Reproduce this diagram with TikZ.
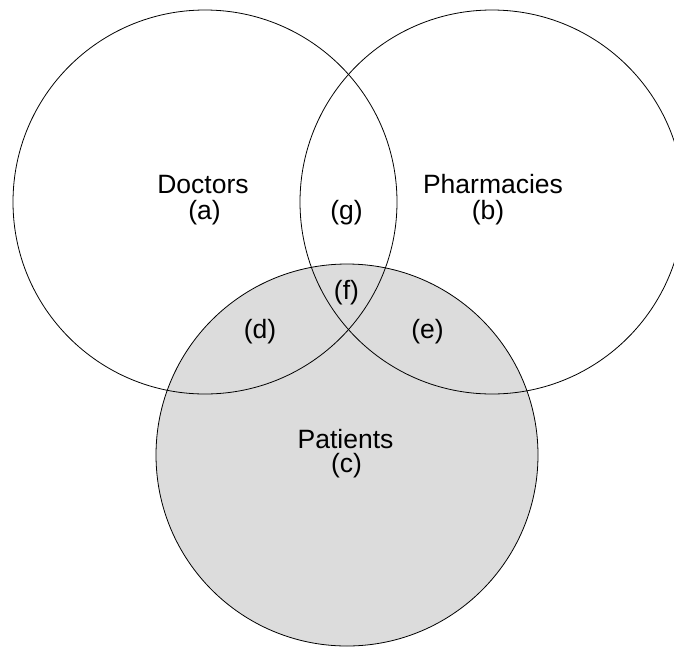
\documentclass[tikz,border=0pt]{standalone}
\usepackage{fontspec}
\setmainfont{Liberation Sans}
\definecolor{patfill}{RGB}{220,220,220}
\tikzset{
  circ/.style={draw=black, line width=0.8pt},
  lbl/.style={anchor=base, inner sep=0pt, font=\fontsize{26.5}{30}\selectfont}
}
\begin{document}
\begin{tikzpicture}[x=1pt,y=-1pt]
\useasboundingbox (0,0) rectangle (674,646);
\clip (0,0) rectangle (674,646);
\coordinate (cdoc) at (205,202);
\coordinate (cpha) at (492,202);
\coordinate (cpat) at (347,455);
\fill[patfill] (cpat) circle[radius=191];
\draw[circ] (cpat) circle[radius=191];
\draw[circ] (cdoc) circle[radius=192];
\draw[circ] (cpha) circle[radius=192];
\node[lbl] (doctors) at (203,193) {Doctors};
\node[lbl] (a) at (204.5,219) {(a)};
\node[lbl] (pharm) at (493,193) {Pharmacies};
\node[lbl] (b) at (488,219) {(b)};
\node[lbl] (g) at (346.5,219) {(g)};
\node[lbl] (f) at (346.5,299) {(f)};
\node[lbl] (d) at (260,338) {(d)};
\node[lbl] (e) at (427.5,338) {(e)};
\node[lbl] (patients) at (345.5,448) {Patients};
\node[lbl] (c) at (346.5,472) {(c)};
\end{tikzpicture}
\end{document}
